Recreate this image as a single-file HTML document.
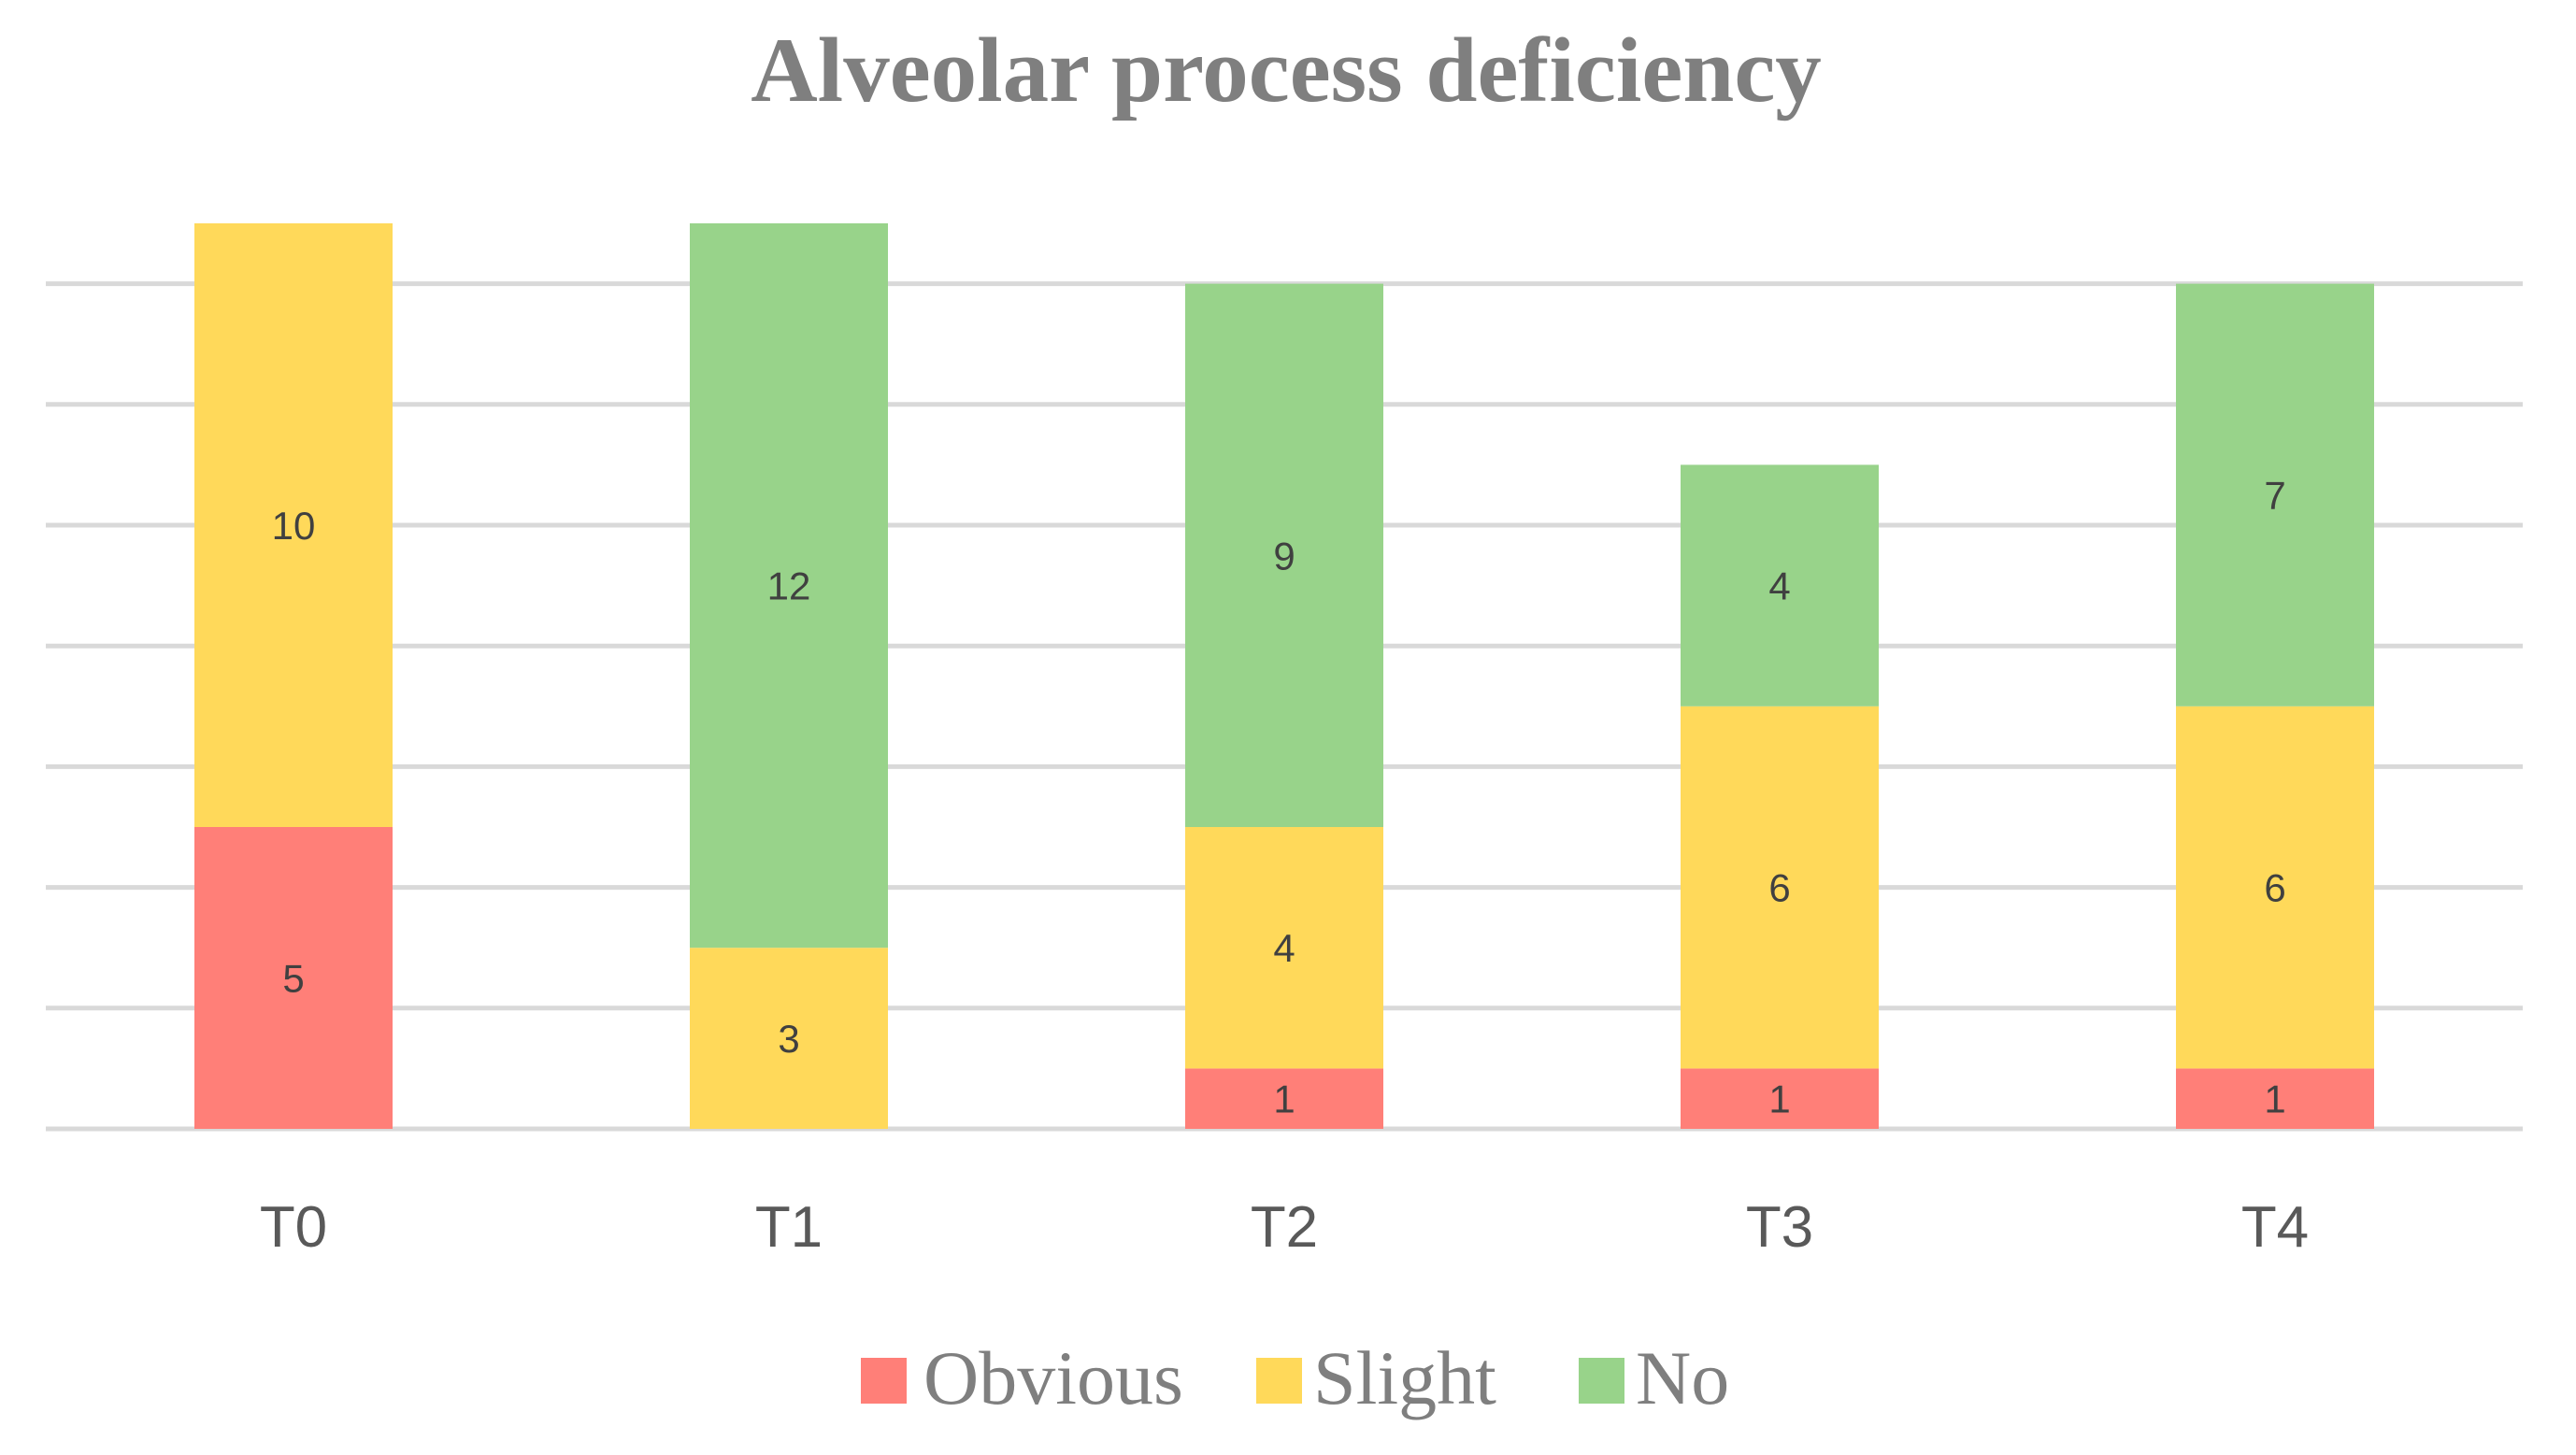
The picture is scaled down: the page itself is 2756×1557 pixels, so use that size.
<!DOCTYPE html>
<html><head><meta charset="utf-8"><style>
html,body{margin:0;padding:0;background:#fff;}
svg{display:block;}
</style></head><body>
<svg id="chart" width="2756" height="1557" viewBox="0 0 2756 1557" xmlns="http://www.w3.org/2000/svg">
<rect width="2756" height="1557" fill="#fff"/>
<text x="1376" y="108" text-anchor="middle" font-family="Liberation Serif, serif" font-weight="bold" font-size="99" fill="#7f7f7f">Alveolar process deficiency</text>
<g id="grid"></g>
<g id="bars"></g>
<g id="labels"></g>
<g id="xaxis"></g>
<g id="legend">
  <rect x="921" y="1453" width="49" height="49" fill="#ff7f78"/>
  <text x="988" y="1502" font-family="Liberation Serif, serif" font-size="82" fill="#7f7f7f">Obvious</text>
  <rect x="1344" y="1453" width="49" height="49" fill="#ffd95a"/>
  <text x="1405" y="1502" font-family="Liberation Serif, serif" font-size="82" fill="#7f7f7f">Slight</text>
  <rect x="1689" y="1453" width="49" height="49" fill="#98d38a"/>
  <text x="1750" y="1502" font-family="Liberation Serif, serif" font-size="82" fill="#7f7f7f">No</text>
</g>
</svg>
<script>
const categories = ["T0","T1","T2","T3","T4"];
const obvious = [5,0,1,1,1];
const slight = [10,3,4,6,6];
const no = [0,12,9,4,7];
const gridTicks = [0,2,4,6,8,10,12,14];

const NS="http://www.w3.org/2000/svg";
const baseY=1208, unit=64.6, x0=49, x1=2699;
const y = v => baseY - v*unit;
const band = (x1-x0)/categories.length;
const xc = i => x0 + band*(i+0.5);
const barW = 212;

const grid=document.getElementById('grid');
gridTicks.forEach(t=>{
  const l=document.createElementNS(NS,'line');
  l.setAttribute('x1',x0);l.setAttribute('x2',x1);
  l.setAttribute('y1',y(t));l.setAttribute('y2',y(t));
  l.setAttribute('stroke','#d9d9d9');l.setAttribute('stroke-width','5');
  
  
  grid.appendChild(l);
});

const series=[{n:'obvious',d:obvious,c:'#ff7f78'},{n:'slight',d:slight,c:'#ffd95a'},{n:'no',d:no,c:'#98d38a'}];
const bars=document.getElementById('bars'), labels=document.getElementById('labels'), xaxis=document.getElementById('xaxis');
categories.forEach((cat,i)=>{
  let acc=0;
  series.forEach(s=>{
    const v=s.d[i];
    if(v>0){
      const r=document.createElementNS(NS,'rect');
      r.setAttribute('x',xc(i)-barW/2);r.setAttribute('width',barW);
      r.setAttribute('y',y(acc+v));r.setAttribute('height',v*unit);
      r.setAttribute('fill',s.c);
      
      
      bars.appendChild(r);
      const t=document.createElementNS(NS,'text');
      t.setAttribute('x',xc(i));t.setAttribute('y',y(acc+v/2)+15);
      t.setAttribute('text-anchor','middle');t.setAttribute('font-family','Liberation Sans, sans-serif');
      t.setAttribute('font-size','42');t.setAttribute('fill','#404040');
      t.textContent=v;
      
      
      labels.appendChild(t);
    }
    acc+=v;
  });
  const t=document.createElementNS(NS,'text');
  t.setAttribute('x',xc(i));t.setAttribute('y',1334);
  t.setAttribute('text-anchor','middle');t.setAttribute('font-family','Liberation Sans, sans-serif');
  t.setAttribute('font-size','62');t.setAttribute('fill','#595959');
  t.textContent=cat;
  
  
  xaxis.appendChild(t);
});
</script>
</body></html>
